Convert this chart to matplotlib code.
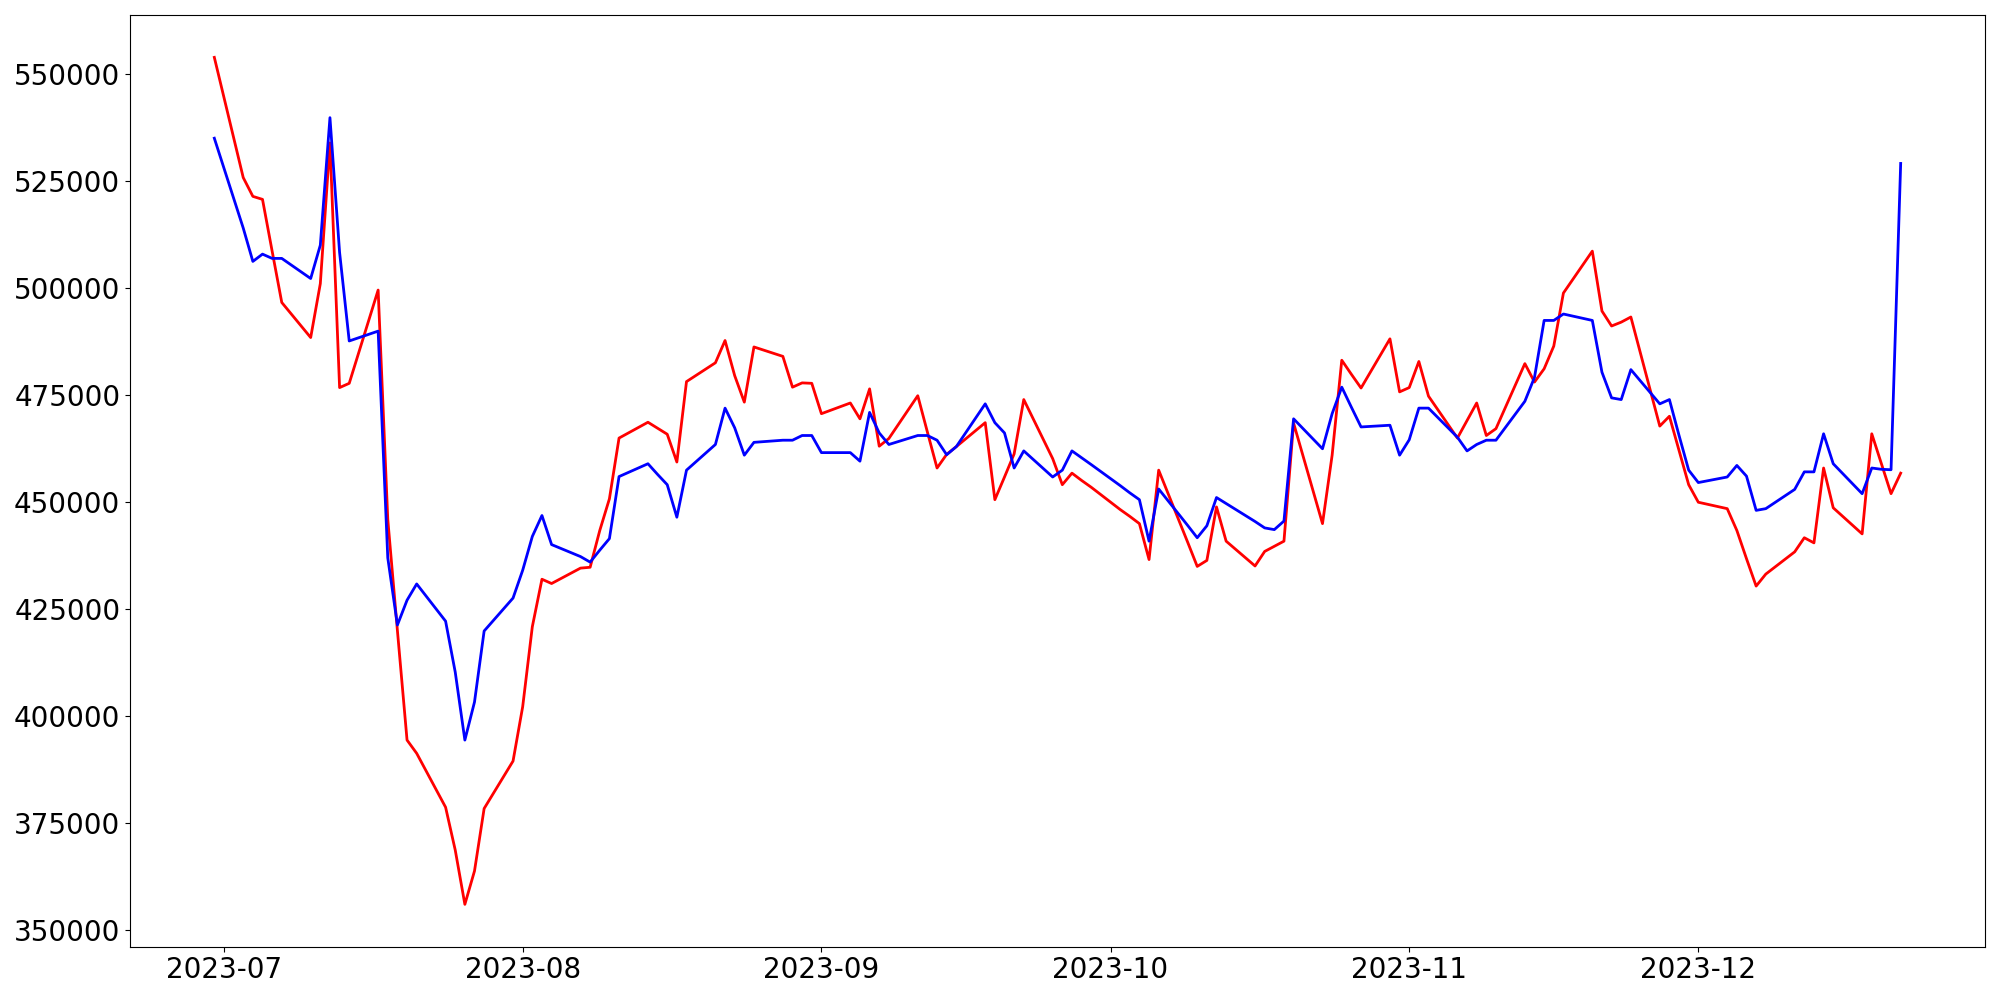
import numpy as np
import pandas as pd
import matplotlib
matplotlib.use("Agg")
import matplotlib.pyplot as plt

# business days from 2023-06-30 to 2023-12-22
dates = pd.bdate_range("2023-06-30", "2023-12-22")

# red series
red_vals = [
    554000,
    # Jul
    525900, 521500, 520800, 508700, 496700, 488500, 501100, 534000, 476800, 477800,
    499600, 446000, 420000, 394400, 391300, 378700, 368700, 356000, 363800, 378400,
    389500,
    # Aug
    402200, 420900, 432000, 431000, 434600, 434800, 443400, 450800, 465000, 468700,
    467300, 465900, 459400, 478200, 482600, 487800, 479600, 473400, 486300, 484100,
    476900, 477900, 477800,
    # Sep
    470700, 473200, 469500, 476500, 463100, 464900, 474900, 466400, 458000, 461200,
    463000, 468600, 450600, 455900, 461300, 474000, 460200, 454100, 456800, 455100,
    453500,
    # Oct
    448300, 446700, 445000, 436600, 457500, 440700, 435000, 436400, 448900, 440900,
    435100, 438500, 439700, 440900, 468500, 445000, 461000, 483200, 479900, 476700,
    488200, 475800,
    # Nov
    476800, 482900, 474800, 465000, 469100, 473200, 465600, 467200, 482400, 478100,
    481200, 486500, 498900, 508700, 494700, 491200, 492100, 493300, 467800, 470100,
    462100, 454100,
    # Dec
    450000, 448500, 443400, 436800, 430400, 433200, 438400, 441700, 440500, 458000,
    448700, 442600, 466000, 459000, 452000, 456800,
]

# blue series
blue_vals = [
    535100,
    # Jul
    514100, 506300, 508000, 507000, 507000, 502300, 510100, 539900, 508400, 487700,
    490000, 437000, 421300, 427100, 430900, 422200, 410300, 394400, 403300, 419900,
    427600,
    # Aug
    434100, 442000, 446900, 440100, 437300, 436000, 438800, 441500, 456000, 459000,
    456500, 454100, 446500, 457500, 463500, 472000, 467400, 461000, 464000, 464500,
    464500, 465600, 465600,
    # Sep
    461600, 461600, 459600, 471000, 466200, 463500, 465600, 465600, 464500, 461100,
    463000, 473000, 468600, 466200, 458000, 462000, 455900, 457500, 462000, 460400,
    458800,
    # Oct
    453900, 452200, 450600, 440900, 453100, 444600, 441700, 444500, 451100, 449700,
    445500, 444000, 443600, 445600, 469500, 462500, 470700, 476900, 472200, 467600,
    468000, 461000,
    # Nov
    464600, 472000, 472000, 465200, 462000, 463500, 464500, 464500, 473600, 479200,
    492500, 492500, 494000, 492500, 480400, 474400, 474000, 481000, 473000, 474000,
    465600, 457500,
    # Dec
    454600, 455900, 458600, 456100, 448100, 448500, 453000, 457100, 457100, 466000,
    459000, 452000, 458000, 457700, 457600, 529200,
]

fig, ax = plt.subplots(figsize=(20, 10), dpi=100)
ax.plot(dates, red_vals, color="red", linewidth=2)
ax.plot(dates, blue_vals, color="blue", linewidth=2)

ax.tick_params(axis="both", labelsize=20)
fig.subplots_adjust(left=0.065, right=0.9925, top=0.985, bottom=0.0533)
fig.savefig("out.png")
